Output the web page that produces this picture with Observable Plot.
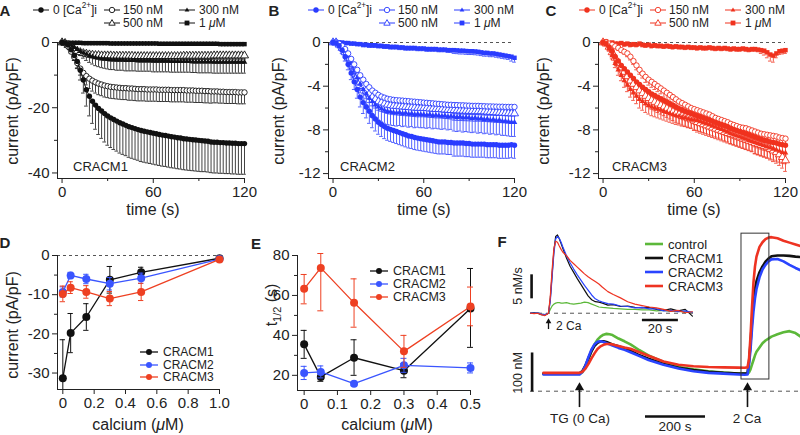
<!DOCTYPE html>
<html><head><meta charset="utf-8">
<script src="https://cdn.jsdelivr.net/npm/d3@7"></script>
<script src="https://cdn.jsdelivr.net/npm/@observablehq/plot@0.6"></script>
<style>
body{margin:0;background:#fff;}
#fig{position:relative;width:800px;height:435px;overflow:hidden;background:#fff;font-family:"Liberation Sans",Arial,sans-serif;color:#222;}
.t{position:absolute;white-space:nowrap;line-height:1;}
.t sup{font-size:0.68em;position:relative;top:-0.1em;line-height:0;vertical-align:super;}
.t sub{font-size:0.68em;line-height:0;}
</style></head><body><div id="fig"></div>
<script>
// ---------- DATA ----------
const time = [0,2,4,6,8,10,12,14,16,18,20,22,24,26,28,30,32,34,36,38,40,42,44,46,48,50,52,54,56,58,60,62,64,66,68,70,72,74,76,78,80,82,84,86,88,90,92,94,96,98,100,102,104,106,108,110,112,114,116,118,120];
const concLabels = ["0 [Ca<sup>2+</sup>]i","150 nM","300 nM","500 nM","1 <i>μ</i>M"];

// Panel A (CRACM1), current pA/pF
const a0 = [0,-0.2,-0.8,-2.2,-4,-5.8,-8.5,-11.5,-14.5,-16.5,
-18,-19.2,-20.2,-21,-21.8,-22.5,-23.1,-23.6,-24.1,-24.6,
-25,-25.4,-25.8,-26.1,-26.4,-26.7,-27,-27.2,-27.4,-27.6,
-27.8,-28,-28.2,-28.4,-28.5,-28.7,-28.9,-29,-29.2,-29.3,
-29.5,-29.6,-29.7,-29.8,-29.9,-30,-30.1,-30.2,-30.3,-30.5,
-30.6,-30.6,-30.7,-30.7,-30.8,-30.8,-30.9,-30.9,-31,-31,
-31];
const a0Err = [0,0.3,0.6,1,1.5,2.2,3,4,5,6,
6.8,7.4,8,8.4,8.7,9,9.1,9.2,9.2,9.3,
9.3,9.3,9.4,9.4,9.4,9.4,9.5,9.5,9.5,9.5,
9.5,9.5,9.5,9.5,9.5,9.5,9.5,9.5,9.5,9.5,
9.5,9.5,9.5,9.5,9.5,9.5,9.5,9.4,9.4,9.4,
9.4,9.4,9.4,9.4,9.4,9.4,9.4,9.4,9.4,9.4,
9.4];
const a150 = [0,-0.3,-1.2,-2.8,-4.5,-6.3,-8,-9.3,-10.3,-11.1,
-11.7,-12.2,-12.6,-12.9,-13.2,-13.4,-13.6,-13.7,-13.8,-13.9,
-14,-14,-14.1,-14.1,-14.2,-14.3,-14.3,-14.3,-14.4,-14.4,
-14.4,-14.4,-14.5,-14.5,-14.5,-14.5,-14.6,-14.6,-14.6,-14.6,
-14.6,-14.7,-14.7,-14.7,-14.8,-14.8,-14.8,-14.9,-14.9,-15,
-15,-15,-15.1,-15.1,-15.2,-15.2,-15.2,-15.2,-15.3,-15.3,
-15.3];
const a150Err = [0,0.1,0.3,0.6,1,1.5,2,2.4,2.7,3,
3.2,3.3,3.4,3.4,3.5,3.5,3.5,3.5,3.5,3.5,
3.5,3.5,3.6,3.6,3.6,3.6,3.6,3.6,3.6,3.6,
3.6,3.6,3.6,3.6,3.6,3.6,3.6,3.6,3.6,3.6,
3.6,3.6,3.6,3.6,3.6,3.6,3.6,3.6,3.6,3.6,
3.5,3.5,3.5,3.5,3.5,3.5,3.5,3.5,3.5,3.5,
3.5];
const a300 = [0,-0.1,-0.4,-0.9,-1.5,-2.1,-2.7,-3.2,-3.6,-4,
-4.3,-4.6,-4.8,-5,-5.1,-5.2,-5.3,-5.3,-5.4,-5.4,
-5.4,-5.5,-5.5,-5.5,-5.5,-5.6,-5.6,-5.6,-5.6,-5.6,
-5.7,-5.7,-5.7,-5.7,-5.7,-5.7,-5.8,-5.8,-5.8,-5.8,
-5.8,-5.8,-5.8,-5.9,-5.9,-5.9,-5.9,-5.9,-5.9,-5.9,
-6,-6,-6,-6,-6,-6,-6,-6,-6,-6,
-6];
const a300Err = [0,0,0.2,0.4,0.7,1,1.3,1.6,1.9,2.1,
2.3,2.5,2.6,2.7,2.8,2.9,3,3,3.1,3.1,
3.1,3.2,3.2,3.2,3.2,3.2,3.2,3.2,3.2,3.2,
3.3,3.3,3.3,3.3,3.3,3.3,3.3,3.3,3.3,3.3,
3.3,3.3,3.3,3.3,3.3,3.4,3.4,3.4,3.4,3.4,
3.4,3.4,3.4,3.4,3.4,3.4,3.4,3.4,3.4,3.4,
3.4];
const a500 = [0,-0.2,-0.8,-1.5,-2.1,-2.6,-3,-3.3,-3.5,-3.7,
-3.8,-3.9,-3.9,-4,-4,-4,-4,-4.1,-4.1,-4.1,
-4.1,-4.1,-4.1,-4.1,-4.2,-4.2,-4.2,-4.2,-4.2,-4.2,
-4.2,-4.2,-4.2,-4.2,-4.2,-4.2,-4.2,-4.2,-4.2,-4.2,
-4.1,-4.1,-4.1,-4.1,-4.1,-4.1,-4.1,-4.1,-4.1,-4.1,
-4,-4,-4,-4,-4,-4,-4,-4,-4,-4,
-4];
const a500Err = [0,0.1,0.2,0.3,0.4,0.5,0.6,0.7,0.8,0.8,
0.9,0.9,0.9,1,1,1,1,1,1,1,
1,1,1,1,1,1,1,1,1,1,
1,1,1,1,1,1.1,1.1,1.1,1.1,1.1,
1.1,1.1,1.1,1.1,1.1,1.1,1.1,1.1,1.1,1.1,
1.1,1.1,1.1,1.1,1.1,1.1,1.1,1.1,1.1,1.1,
1.1];
const a1000 = [0,0,-0.1,-0.1,-0.1,-0.1,-0.1,-0.2,-0.2,-0.2,
-0.2,-0.2,-0.2,-0.2,-0.2,-0.2,-0.3,-0.3,-0.3,-0.3,
-0.3,-0.3,-0.3,-0.3,-0.3,-0.3,-0.3,-0.3,-0.3,-0.3,
-0.3,-0.3,-0.4,-0.4,-0.4,-0.4,-0.4,-0.4,-0.4,-0.4,
-0.4,-0.4,-0.4,-0.4,-0.4,-0.4,-0.4,-0.4,-0.4,-0.4,
-0.4,-0.4,-0.5,-0.5,-0.5,-0.5,-0.5,-0.5,-0.5,-0.5,
-0.5];
const a1000Err = [0,0.1,0.1,0.1,0.2,0.2,0.2,0.2,0.2,0.2,
0.2,0.2,0.2,0.2,0.2,0.2,0.2,0.2,0.2,0.2,
0.3,0.3,0.3,0.3,0.3,0.3,0.3,0.3,0.3,0.3,
0.3,0.3,0.3,0.3,0.3,0.3,0.3,0.3,0.3,0.3,
0.3,0.3,0.3,0.3,0.3,0.3,0.3,0.3,0.3,0.3,
0.3,0.3,0.3,0.3,0.3,0.3,0.3,0.3,0.3,0.3,
0.3];

// Panel B (CRACM2)
const b0 = [0,-0.05,-0.3,-0.7,-1.3,-2,-2.8,-3.6,-4.3,-5,
-5.5,-5.9,-6.3,-6.7,-7,-7.3,-7.5,-7.7,-7.85,-7.95,
-8.05,-8.15,-8.25,-8.35,-8.45,-8.55,-8.6,-8.7,-8.75,-8.8,
-8.85,-8.9,-8.95,-9,-9.05,-9.1,-9.1,-9.1,-9.15,-9.15,
-9.2,-9.2,-9.2,-9.2,-9.25,-9.25,-9.3,-9.3,-9.3,-9.3,
-9.3,-9.35,-9.35,-9.35,-9.35,-9.4,-9.4,-9.4,-9.4,-9.35,
-9.4];
const b0Err = [0,0.1,0.2,0.3,0.4,0.5,0.6,0.7,0.8,0.9,
1,1,1.1,1.1,1.1,1.1,1.1,1.1,1.1,1.1,
1.1,1.1,1.1,1.1,1.1,1.1,1.1,1.1,1.1,1.1,
1.1,1.1,1.1,1.1,1.1,1.1,1.1,1.1,1.1,1.1,
1.2,1.2,1.2,1.2,1.2,1.2,1.2,1.2,1.2,1.2,
1.2,1.2,1.2,1.2,1.2,1.2,1.2,1.2,1.2,1.2,
1.2];
const b150 = [0,0,-0.1,-0.3,-0.6,-1,-1.5,-2,-2.5,-3,
-3.4,-3.8,-4.1,-4.4,-4.6,-4.8,-4.95,-5.05,-5.15,-5.2,
-5.25,-5.28,-5.3,-5.32,-5.35,-5.37,-5.4,-5.42,-5.45,-5.47,
-5.5,-5.52,-5.55,-5.57,-5.6,-5.62,-5.65,-5.67,-5.7,-5.7,
-5.72,-5.73,-5.75,-5.75,-5.77,-5.78,-5.8,-5.8,-5.8,-5.82,
-5.83,-5.85,-5.85,-5.86,-5.87,-5.88,-5.88,-5.9,-5.9,-5.9,
-5.9];
const b150Err = [0,0,0.1,0.1,0.2,0.3,0.4,0.5,0.6,0.6,
0.7,0.7,0.7,0.7,0.7,0.7,0.7,0.7,0.7,0.7,
0.7,0.7,0.7,0.7,0.7,0.7,0.7,0.7,0.7,0.7,
0.7,0.7,0.7,0.7,0.7,0.7,0.7,0.7,0.7,0.7,
0.8,0.8,0.8,0.8,0.8,0.8,0.8,0.8,0.8,0.8,
0.8,0.8,0.8,0.8,0.8,0.8,0.8,0.8,0.8,0.8,
0.8];
const b300 = [0,0,-0.1,-0.4,-0.8,-1.3,-1.9,-2.6,-3.2,-3.8,
-4.3,-4.7,-5.1,-5.4,-5.7,-5.9,-6.05,-6.2,-6.3,-6.35,
-6.4,-6.45,-6.4,-6.5,-6.45,-6.55,-6.5,-6.6,-6.55,-6.6,
-6.6,-6.65,-6.6,-6.7,-6.65,-6.7,-6.75,-6.7,-6.8,-6.75,
-6.8,-6.85,-6.8,-6.9,-6.85,-6.9,-6.95,-6.9,-7,-6.95,
-7.05,-7,-7.1,-7.05,-7.15,-7.1,-7.2,-7.2,-7.25,-7.3,
-7.3];
const b300Err = [0,0,0.1,0.2,0.3,0.4,0.5,0.6,0.7,0.8,
0.9,1,1.1,1.1,1.2,1.2,1.2,1.2,1.2,1.2,
1.2,1.2,1.2,1.2,1.2,1.2,1.2,1.2,1.2,1.2,
1.2,1.2,1.2,1.2,1.2,1.2,1.2,1.2,1.2,1.2,
1.3,1.3,1.3,1.3,1.3,1.3,1.3,1.3,1.3,1.3,
1.3,1.3,1.3,1.3,1.3,1.3,1.3,1.3,1.3,1.3,
1.3];
const b500 = [0,0,-0.2,-0.5,-0.9,-1.4,-2,-2.6,-3.1,-3.6,
-4,-4.4,-4.7,-5,-5.2,-5.4,-5.5,-5.6,-5.7,-5.75,
-5.8,-5.82,-5.85,-5.87,-5.9,-5.92,-5.95,-5.97,-6,-6,
-6,-6.02,-6.05,-6.07,-6.1,-6.1,-6.12,-6.15,-6.17,-6.2,
-6.2,-6.22,-6.23,-6.25,-6.26,-6.27,-6.28,-6.3,-6.3,-6.3,
-6.32,-6.34,-6.36,-6.38,-6.4,-6.42,-6.44,-6.46,-6.48,-6.5,
-6.5];
const b500Err = [0,0,0.1,0.2,0.3,0.4,0.5,0.5,0.6,0.6,
0.7,0.7,0.8,0.8,0.8,0.8,0.8,0.8,0.8,0.8,
0.8,0.8,0.8,0.8,0.8,0.8,0.8,0.8,0.8,0.8,
0.8,0.8,0.8,0.8,0.8,0.8,0.8,0.8,0.8,0.8,
0.9,0.9,0.9,0.9,0.9,0.9,0.9,0.9,0.9,0.9,
0.9,0.9,0.9,0.9,0.9,0.9,0.9,0.9,0.9,0.9,
0.9];
const b1000 = [0,0.05,0,0,-0.05,-0.05,-0.1,-0.1,-0.15,-0.15,
-0.2,-0.2,-0.25,-0.25,-0.25,-0.3,-0.3,-0.35,-0.35,-0.4,
-0.4,-0.4,-0.45,-0.45,-0.5,-0.5,-0.5,-0.5,-0.55,-0.55,
-0.55,-0.6,-0.6,-0.6,-0.6,-0.65,-0.65,-0.65,-0.7,-0.7,
-0.7,-0.72,-0.75,-0.75,-0.78,-0.8,-0.8,-0.82,-0.85,-0.9,
-0.95,-0.95,-1,-1,-1.05,-1.1,-1.15,-1.2,-1.25,-1.3,
-1.4];
const b1000Err = [0,0.1,0.1,0.1,0.1,0.1,0.1,0.1,0.1,0.1,
0.2,0.2,0.2,0.2,0.2,0.2,0.2,0.2,0.2,0.2,
0.2,0.2,0.2,0.2,0.2,0.2,0.2,0.2,0.2,0.2,
0.2,0.2,0.2,0.2,0.2,0.2,0.2,0.2,0.2,0.2,
0.3,0.3,0.3,0.3,0.3,0.3,0.3,0.3,0.3,0.3,
0.3,0.3,0.3,0.3,0.3,0.3,0.3,0.3,0.3,0.4,
0.4];

// Panel C (CRACM3)
const c0 = [0,-0.1,-0.4,-0.8,-1.3,-1.7,-2.1,-2.4,-2.7,-3,
-3.3,-3.6,-3.85,-4.1,-4.3,-4.5,-4.7,-4.85,-5,-5.15,
-5.3,-5.45,-5.6,-5.75,-5.9,-6.05,-6.15,-6.3,-6.4,-6.5,
-6.6,-6.7,-6.8,-6.9,-7,-7.1,-7.2,-7.3,-7.4,-7.5,
-7.6,-7.7,-7.85,-7.95,-8.05,-8.15,-8.25,-8.35,-8.45,-8.55,
-8.65,-8.75,-8.85,-8.95,-9,-9.1,-9.15,-9.2,-9.3,-9.35,
-9.4];
const c0Err = [0,0.1,0.1,0.2,0.2,0.3,0.3,0.4,0.4,0.5,
0.5,0.5,0.6,0.6,0.6,0.6,0.7,0.7,0.7,0.7,
0.7,0.7,0.7,0.7,0.7,0.7,0.7,0.7,0.7,0.7,
0.8,0.8,0.8,0.8,0.8,0.8,0.8,0.8,0.8,0.8,
0.8,0.8,0.8,0.8,0.8,0.8,0.8,0.8,0.8,0.8,
0.9,0.9,0.9,0.9,0.9,0.9,0.9,0.9,0.9,0.9,
0.9];
const c150 = [0,0,-0.1,-0.2,-0.35,-0.5,-0.7,-0.85,-1,-1.3,
-1.7,-2.1,-2.5,-2.85,-3.15,-3.4,-3.6,-3.8,-4,-4.2,
-4.4,-4.6,-4.8,-5,-5.2,-5.4,-5.55,-5.7,-5.85,-6,
-6.1,-6.2,-6.3,-6.4,-6.5,-6.6,-6.75,-6.9,-7,-7.1,
-7.2,-7.3,-7.45,-7.55,-7.65,-7.75,-7.8,-7.85,-7.95,-8.05,
-8.15,-8.25,-8.35,-8.4,-8.45,-8.5,-8.55,-8.6,-8.7,-8.75,
-8.8];
const c150Err = [0,0,0.1,0.1,0.1,0.2,0.2,0.2,0.3,0.3,
0.3,0.4,0.4,0.4,0.5,0.5,0.5,0.5,0.5,0.5,
0.6,0.6,0.6,0.6,0.6,0.6,0.6,0.6,0.6,0.6,
0.6,0.6,0.6,0.6,0.6,0.6,0.6,0.6,0.6,0.6,
0.6,0.6,0.6,0.6,0.6,0.6,0.6,0.6,0.6,0.6,
0.7,0.7,0.7,0.7,0.7,0.7,0.7,0.7,0.7,0.7,
0.7];
const c300 = [0,-0.2,-0.6,-1.2,-1.9,-2.5,-3,-3.5,-3.9,-4.3,
-4.6,-4.9,-5.2,-5.4,-5.6,-5.75,-5.9,-6,-6.1,-6.2,
-6.3,-6.4,-6.5,-6.6,-6.7,-6.75,-6.85,-6.9,-7,-7.05,
-7.1,-7.15,-7.25,-7.35,-7.45,-7.55,-7.65,-7.75,-7.85,-7.95,
-8.1,-8.2,-8.35,-8.45,-8.55,-8.65,-8.75,-8.85,-8.95,-9.05,
-9.15,-9.25,-9.35,-9.45,-9.55,-9.65,-9.75,-9.85,-9.95,-10.05,
-10.1];
const c300Err = [0,0.1,0.2,0.3,0.4,0.5,0.5,0.6,0.6,0.7,
0.7,0.7,0.8,0.8,0.8,0.8,0.8,0.8,0.8,0.8,
0.8,0.8,0.8,0.8,0.8,0.8,0.8,0.8,0.8,0.8,
0.9,0.9,0.9,0.9,0.9,0.9,0.9,0.9,0.9,0.9,
0.9,0.9,0.9,0.9,0.9,0.9,0.9,0.9,0.9,0.9,
1,1,1,1,1,1,1,1,1,1,
1];
const c500 = [0,-0.1,-0.4,-0.9,-1.4,-1.9,-2.3,-2.7,-3.1,-3.5,
-3.8,-4.1,-4.4,-4.65,-4.9,-5.1,-5.3,-5.45,-5.6,-5.75,
-5.9,-6.05,-6.2,-6.35,-6.5,-6.6,-6.75,-6.85,-6.95,-7.05,
-7.15,-7.3,-7.4,-7.5,-7.6,-7.7,-7.8,-7.9,-8,-8.1,
-8.2,-8.3,-8.4,-8.5,-8.6,-8.7,-8.8,-8.9,-9,-9.1,
-9.2,-9.3,-9.4,-9.5,-9.6,-9.75,-9.9,-10.05,-10.25,-10.5,
-10.8];
const c500Err = [0,0.1,0.2,0.3,0.4,0.5,0.6,0.6,0.7,0.7,
0.8,0.8,0.8,0.8,0.8,0.8,0.8,0.8,0.8,0.8,
0.8,0.8,0.8,0.8,0.8,0.8,0.8,0.8,0.8,0.8,
0.9,0.9,0.9,0.9,0.9,0.9,0.9,0.9,0.9,0.9,
0.9,0.9,0.9,0.9,0.9,0.9,0.9,0.9,0.9,0.9,
1,1,1,1,1,1,1,1,1,1,
1];
const c1000 = [0,0.1,-0.1,0,-0.1,-0.1,-0.05,-0.15,-0.1,-0.2,
-0.15,-0.2,-0.1,-0.2,-0.25,-0.2,-0.3,-0.25,-0.3,-0.3,
-0.35,-0.3,-0.35,-0.4,-0.35,-0.4,-0.4,-0.45,-0.4,-0.45,
-0.45,-0.5,-0.45,-0.5,-0.5,-0.45,-0.5,-0.55,-0.5,-0.55,
-0.5,-0.55,-0.6,-0.55,-0.6,-0.6,-0.55,-0.6,-0.65,-0.6,
-0.6,-0.65,-0.7,-0.75,-0.9,-1.1,-1.2,-1,-0.8,-0.75,
-0.7];
const c1000Err = [0,0.1,0.1,0.1,0.1,0.1,0.1,0.2,0.2,0.2,
0.2,0.2,0.2,0.2,0.2,0.2,0.2,0.2,0.2,0.2,
0.2,0.2,0.2,0.2,0.2,0.2,0.2,0.2,0.2,0.2,
0.2,0.2,0.2,0.2,0.2,0.2,0.2,0.2,0.2,0.2,
0.2,0.2,0.2,0.2,0.2,0.2,0.2,0.2,0.2,0.2,
0.2,0.2,0.3,0.4,0.5,0.6,0.6,0.4,0.3,0.3,
0.3];

// Panel D: peak current vs calcium
const dCalcium = [0,0.05,0.15,0.3,0.5,1.0];
const dCracm1 = [-31.3,-19.8,-15.7,-6.2,-4.3,-0.7];
const dCracm1Err = [9.8,5,3.4,3.4,1.3,0.3];
const dCracm2 = [-9.3,-5.1,-6,-7.2,-5.8,-0.9];
const dCracm2Err = [1.3,0.8,1.2,1.6,1.3,0.4];
const dCracm3 = [-9.8,-8.2,-9.3,-11,-9.3,-1];
const dCracm3Err = [2,1.5,1.6,1.8,2.2,0.5];

// Panel E: t1/2 vs calcium
const eCalcium = [0,0.05,0.15,0.3,0.5];
const eCracm1 = [35.5,19.2,28.8,22.3,53.5];
const eCracm1Up = [7,2.2,9,3.5,20];
const eCracm1Dn = [7,2.2,8.8,3.5,19.5];
const eCracm2 = [21.2,21.7,15.8,25,23.7];
const eCracm2Up = [3.3,3,1,3.5,2.5];
const eCracm2Dn = [3.3,3,1,3.5,2.5];
const eCracm3 = [63.3,73.8,56.3,32,54.5];
const eCracm3Up = [7.2,7.2,12,8,9.7];
const eCracm3Dn = [7.5,21.5,12.2,8,9.7];
const cracmNames = ["CRACM1","CRACM2","CRACM3"];

// Panel F inset: Ca influx rate (nM/s) vs time after 2 Ca (s)
const insetTime = [-10,-8,-6,-4,-2,0,1,2,3,4,5,6,7,8,10,12,14,16,18,20,22,24,26,28,30,33,36,40,44,48,52,56,60,64,68,72,76,80];
const insetControl = [0,0,0.1,-0.2,-0.3,0,0.8,1.5,1.9,2.1,2.2,2.2,2.1,2.1,2.2,2,1.9,2,2.1,2.3,2.2,1.9,1.6,1.3,1.2,1.1,1,0.9,0.8,0.8,0.7,0.7,0.5,0.6,0.4,0.4,0.3,0.2];
const insetCracm1 = [0,0.1,0,-0.3,-0.4,0,3,8,13,16,16.3,15.5,14.5,13.5,11.5,9.8,8.5,7.2,6,4.8,3.6,2.8,2.4,2.3,2.1,1.7,1.8,1.4,1.5,1.2,1.1,1.2,0.8,0.6,0.9,0.5,0.8,-0.6];
const insetCracm2 = [0,0,0.1,-0.2,-0.3,0,2.5,7.5,12.5,15.5,16,15.6,14.8,13.8,12,10.5,9.2,8,6.9,5.8,4.8,3.8,3,2.6,2.3,2,1.9,1.5,1.4,1.1,1.2,0.9,0.9,0.5,0.6,0.3,0.5,0.2];
const insetCracm3 = [0,-0.1,0,-0.3,-0.5,0,3.5,9,13.5,15,14.8,14,13.3,12.7,12,11,10.3,9.6,8.9,8.2,7.6,7.1,6.6,6.1,5.4,4.5,3.9,3.2,2.4,1.9,1.6,1.3,1.1,0.8,0.4,0.6,0.1,0.3];

// Panel F main: [Ca2+]i (nM) vs time (s)
const fTime = [0,40,80,110,120,130,140,150,160,170,180,190,200,210,220,230,250,270,290,320,350,400,450,500,550,600,650,670,680,685,690,695,700,705,710,720,730,740,750,760,780,800,820,840,857];
const fControl = [44,44,44,44,44,49,62,82,103,120,132,140,145,147,146,144,135,128,120,105,92,75,62,56,51,48,45,45,45,48,56,68,80,92,101,112,123,130,135,140,146,151,154,149,140];
const fCracm1 = [45,45,45,45,46,52,66,85,103,116,124,128,128,126,123,120,115,110,104,92,83,70,60,54,50,47,45,45,46,75,122,180,232,262,282,305,320,332,340,346,348,348,347,345,344];
const fCracm2 = [43,43,43,43,43,50,66,88,107,120,127,128,126,123,120,117,111,106,100,90,80,68,58,51,47,45,43,42,43,68,106,160,205,238,262,292,312,324,333,338,339,333,324,316,310];
const fCracm3 = [47,47,47,47,47,50,58,70,84,97,108,115,119,121,121,120,116,112,109,100,91,76,68,64,62,61,60.5,60,61,82,140,215,280,320,345,370,382,390,394,395,392,386,381,376,372];
const fNames = ["control","CRACM1","CRACM2","CRACM3"];
const fEvents = [{t:120,label:"TG (0 Ca)"},{t:680,label:"2 Ca"}];
const fBox = [{t1:660,t2:753,v1:30,v2:404}];
const fTimeBar = [{t1:340,t2:540,label:"200 s"}];
const fConcBar = [{v1:-2,v2:98,label:"100 nM"}];
const insetTimeBar = [{t1:52.2,t2:72.2,label:"20 s"}];
const insetRateBar = [{v1:3,v2:8,label:"5 nM/s"}];

// ---------- DRAWING ----------
const FONT = '"Liberation Sans", Arial, sans-serif';
const fig = document.getElementById("fig");
const BLACK = "#111", BLUE = "#2a3cff", RED = "#f0321e";
const dColors = ["#111","#3a55ff","#ee4022"];
const fColors = ["#5cb83a","#111","#2a44ff","#ee3322"];
const markers = [
  {symbol:"circle", r:2.7, open:false},
  {symbol:"circle", r:2.7, open:true},
  {symbol:"triangle", r:2.1, open:false},
  {symbol:"triangle", r:3, open:true},
  {symbol:"square", r:2.5, open:false}
];

function place(svg, left, top) {
  svg.style.position = "absolute";
  svg.style.left = left + "px";
  svg.style.top = top + "px";
  fig.appendChild(svg);
}
function axes(xd, yd, xt, xm, yt, ym, xfmt) {
  const m = [
    Plot.ruleX([xd[0]], {stroke:"#222", strokeWidth:1}),
    Plot.ruleY([yd[0]], {stroke:"#222", strokeWidth:1}),
    Plot.axisY({ticks: yt, tickSize:5, tickPadding:3, tickFormat: d => String(d), label:null, fontSize:15}),
    Plot.axisX({ticks: xt, tickSize:5, tickPadding:3, tickFormat: xfmt, label:null, fontSize:15})
  ];
  if (ym.length) m.push(Plot.axisY({ticks: ym, tickSize:3, tickFormat: () => "", label:null}));
  if (xm.length) m.push(Plot.axisX({ticks: xm, tickSize:3, tickFormat: () => "", label:null}));
  return m;
}
function baseStyle() {
  return {background:"transparent", overflow:"visible", fontFamily:FONT, fontSize:"15px", color:"#222"};
}

function timePanel(cfg) {
  const xd = [-3,120];
  const rows = cfg.vals.map((arr,k) => arr.map((v,i) => ({t: time[i], v, e: cfg.errs[k][i] ?? 0})));
  const c = cfg.color;
  const marks = [Plot.ruleY([0], {stroke:"#555", strokeDasharray:"3,3", strokeWidth:1})];
  rows.forEach(r => {
    marks.push(Plot.ruleX(r, {x:"t", y1:"v", y2: d => d.v - d.e, stroke:c, strokeWidth:0.8}));
    marks.push(Plot.ruleY(r, {y: d => d.v - d.e, x1: d => d.t - 1.2, x2: d => d.t + 1.2, stroke:c, strokeWidth:0.8}));
  });
  [4,3,2,1,0].forEach(k => {
    const s = markers[k];
    marks.push(Plot.line(rows[k], {x:"t", y:"v", stroke:c, strokeWidth:1}));
    marks.push(Plot.dot(rows[k], {x:"t", y:"v", symbol:s.symbol, r:s.r, fill: s.open ? "white" : c, stroke: s.open ? c : "none", strokeWidth:0.9}));
  });
  marks.push(...axes(xd, cfg.yd, [0,60,120], [30,90], cfg.yt, cfg.ym, d => String(d)));
  const svg = Plot.plot({
    width: cfg.w, height: 218,
    marginLeft: cfg.mL, marginRight: cfg.mR, marginTop: 42, marginBottom: 40,
    x: {domain: xd, label: null}, y: {domain: cfg.yd, label: null},
    style: baseStyle(), marks
  });
  place(svg, cfg.left, 0);
}

timePanel({left:0, w:265, mL:57, mR:21, color:BLACK, yd:[-41.7,0], yt:[0,-20,-40], ym:[-10,-30],
  vals:[a0,a150,a300,a500,a1000], errs:[a0Err,a150Err,a300Err,a500Err,a1000Err]});
timePanel({left:265, w:265, mL:63, mR:16, color:BLUE, yd:[-12.45,0], yt:[0,-4,-8,-12], ym:[-2,-6,-10],
  vals:[b0,b150,b300,b500,b1000], errs:[b0Err,b150Err,b300Err,b500Err,b1000Err]});
timePanel({left:530, w:270, mL:68, mR:15, color:RED, yd:[-12.45,0], yt:[0,-4,-8,-12], ym:[-2,-6,-10],
  vals:[c0,c150,c300,c500,c1000], errs:[c0Err,c150Err,c300Err,c500Err,c1000Err]});

function dosePanel(cfg) {
  const marks = [];
  if (cfg.dashed) marks.push(Plot.ruleY([0], {stroke:"#555", strokeDasharray:"3,3", strokeWidth:1}));
  cfg.vals.forEach((arr,k) => {
    const rows = arr.map((v,i) => ({x: cfg.x[i], v, lo: v - cfg.dn[k][i], hi: v + cfg.up[k][i]}));
    const c = dColors[k];
    marks.push(
      Plot.ruleX(rows, {x:"x", y1:"lo", y2:"hi", stroke:c, strokeWidth:1, clip:cfg.clip}),
      Plot.ruleY(rows, {y:"lo", x1: d => d.x - cfg.cap, x2: d => d.x + cfg.cap, stroke:c, strokeWidth:1, clip:cfg.clip}),
      Plot.ruleY(rows, {y:"hi", x1: d => d.x - cfg.cap, x2: d => d.x + cfg.cap, stroke:c, strokeWidth:1, clip:cfg.clip}),
      Plot.line(rows, {x:"x", y:"v", stroke:c, strokeWidth:1.3}),
      Plot.dot(rows, {x:"x", y:"v", r:4, fill:c})
    );
  });
  marks.push(...axes(cfg.xd, cfg.yd, cfg.xt, [], cfg.yt, cfg.ym, d => d === 0 ? "0" : d.toFixed(1)));
  const svg = Plot.plot({
    width: cfg.w, height: 217,
    marginLeft: cfg.mL, marginRight: cfg.mR, marginTop: 37, marginBottom: cfg.mB,
    x: {domain: cfg.xd, label:null}, y: {domain: cfg.yd, label:null},
    style: baseStyle(), marks
  });
  place(svg, cfg.left, 218);
}
dosePanel({left:0, w:265, mL:57, mR:46, mB:46, xd:[-0.034,1], yd:[-34.2,0], dashed:true, clip:true, cap:0.017,
  xt:[0,0.2,0.4,0.6,0.8,1], yt:[0,-10,-20,-30], ym:[-5,-15,-25],
  x:dCalcium, vals:[dCracm1,dCracm2,dCracm3], up:[dCracm1Err,dCracm2Err,dCracm3Err], dn:[dCracm1Err,dCracm2Err,dCracm3Err]});
dosePanel({left:265, w:240, mL:32, mR:35, mB:45, xd:[-0.02,0.5], yd:[12.4,80], dashed:false, clip:false, cap:0.009,
  xt:[0,0.1,0.2,0.3,0.4,0.5], yt:[20,40,60,80], ym:[30,50,70],
  x:eCalcium, vals:[eCracm1,eCracm2,eCracm3], up:[eCracm1Up,eCracm2Up,eCracm3Up], dn:[eCracm1Dn,eCracm2Dn,eCracm3Dn]});

// Panel F main traces
(function(){
  const traces = [fControl,fCracm1,fCracm2,fCracm3];
  const marks = [Plot.ruleY([0], {stroke:"#555", strokeDasharray:"4,4", strokeWidth:1})];
  traces.forEach((arr,k) => {
    const rows = arr.map((v,i) => ({t: fTime[i], v}));
    marks.push(Plot.line(rows, {x:"t", y:"v", stroke:fColors[k], strokeWidth:2.6}));
  });
  marks.push(
    Plot.rect(fBox, {x1:"t1", x2:"t2", y1:"v1", y2:"v2", fill:"none", stroke:"#333", strokeWidth:1}),
    Plot.ruleX(fEvents, {x:"t", y1:-42, y2:6, stroke:"#111", strokeWidth:1.6}),
    Plot.dot(fEvents, {x:"t", y:9.5, symbol:"triangle", r:3.4, fill:"#111"}),
    Plot.ruleY(fTimeBar, {x1:"t1", x2:"t2", y:-65, stroke:"#111", strokeWidth:2.6}),
    Plot.ruleX(fConcBar, {x:-38, y1:"v1", y2:"v2", stroke:"#111", strokeWidth:2.6})
  );
  const svg = Plot.plot({
    width:295, height:217, marginLeft:25, marginRight:0, marginTop:7, marginBottom:0,
    x:{domain:[-43.3,856.7], axis:null}, y:{domain:[-113.6,424.9], axis:null},
    style: baseStyle(), marks
  });
  place(svg, 505, 218);
})();
// Panel F inset
(function(){
  const traces = [insetControl,insetCracm1,insetCracm2,insetCracm3];
  const marks = [Plot.ruleY([0], {stroke:"#555", strokeDasharray:"4,4", strokeWidth:1})];
  traces.forEach((arr,k) => {
    const rows = arr.map((v,i) => ({t: insetTime[i], v}));
    marks.push(Plot.line(rows, {x:"t", y:"v", stroke:fColors[k], strokeWidth:1.2}));
  });
  marks.push(
    Plot.ruleY(insetTimeBar, {x1:"t1", x2:"t2", y:-1.4, stroke:"#111", strokeWidth:2.6}),
    Plot.ruleX(insetRateBar, {x:-9.4, y1:"v1", y2:"v2", stroke:"#111", strokeWidth:2.6}),
    Plot.ruleX([0], {x: d => d, y1:-3.4, y2:-1.9, stroke:"#111", strokeWidth:1.3}),
    Plot.dot([0], {x: d => d, y:-1.75, symbol:"triangle", r:2.1, fill:"#111"})
  );
  const svg = Plot.plot({
    width:200, height:118, marginLeft:25, marginRight:12, marginTop:10, marginBottom:0,
    x:{domain:[-10,80.6], axis:null}, y:{domain:[-4.85,17.65], axis:null},
    style: baseStyle(), marks
  });
  place(svg, 505, 218);
})();

// ---------- TEXT & LEGENDS ----------
function txt(html, x, y, o = {}) {
  const d = document.createElement("div");
  d.className = "t";
  d.innerHTML = html;
  d.style.left = x + "px";
  d.style.top = y + "px";
  d.style.fontSize = (o.size || 13) + "px";
  if (o.bold) d.style.fontWeight = "bold";
  if (o.color) d.style.color = o.color;
  const ax = o.anchor === "start" ? "0" : o.anchor === "end" ? "-100%" : "-50%";
  d.style.transform = `translate(${ax},-50%)` + (o.rotate ? ` rotate(${o.rotate}deg)` : "");
  fig.appendChild(d);
}
function glyph(k, color, x, y, w = 16) {
  const cx = w/2, cy = 5;
  let m = "";
  if (k === 0) m = `<circle cx="${cx}" cy="${cy}" r="2.7" fill="${color}"/>`;
  if (k === 1) m = `<circle cx="${cx}" cy="${cy}" r="2.7" fill="white" stroke="${color}" stroke-width="0.9"/>`;
  if (k === 2) m = `<path d="M${cx},${cy-2.6}L${cx+2.4},${cy+1.6}L${cx-2.4},${cy+1.6}Z" fill="${color}"/>`;
  if (k === 3) m = `<path d="M${cx},${cy-3.4}L${cx+3.2},${cy+2.2}L${cx-3.2},${cy+2.2}Z" fill="white" stroke="${color}" stroke-width="0.9"/>`;
  if (k === 4) m = `<rect x="${cx-2.4}" y="${cy-2.4}" width="4.8" height="4.8" fill="${color}"/>`;
  if (k === 5) m = `<circle cx="${cx}" cy="${cy}" r="3" fill="${color}"/>`;
  const sw = k === 6 ? 2.6 : (k === 5 ? 1.3 : 1);
  const d = document.createElement("div");
  d.style.position = "absolute"; d.style.left = x + "px"; d.style.top = (y - 5) + "px";
  d.innerHTML = `<svg width="${w}" height="10" style="overflow:visible;display:block"><line x1="0" y1="${cy}" x2="${w}" y2="${cy}" stroke="${color}" stroke-width="${sw}"/>${m}</svg>`;
  fig.appendChild(d);
}
// legends A, B, C
const legendSlots = [[33,53,9.5],[104,123,9.5],[179,199,9.5],[104,123,22.5],[179,199,22.5]];
[[0,BLACK],[275,BLUE],[546,RED]].forEach(([off,col]) => {
  legendSlots.forEach(([gx,tx,y],k) => {
    glyph(k, col, gx + off, y);
    txt(concLabels[k], tx + off, y, {anchor:"start", size:12});
  });
});
// legends D, E
cracmNames.forEach((n,k) => {
  glyph(5, dColors[k], 140, 352 + k*12.6, 18);
  txt(n, 163, 352 + k*12.6, {anchor:"start", size:12});
  glyph(5, dColors[k], 370, 271 + k*13, 18);
  txt(n, 393, 271 + k*13, {anchor:"start", size:12.5});
});
// legend F
fNames.forEach((n,k) => {
  glyph(6, fColors[k], 645, 244 + k*14, 18);
  txt(n, 668, 244 + k*14, {anchor:"start", size:13});
});
// panel letters
[["A",5,10],["B",274,10],["C",551,10],["D",5,242],["E",256,243],["F",502,241]].forEach(([l,x,y]) => txt(l, x, y, {size:15, bold:true}));
// axis titles
[13,279,544].forEach(x => txt("current (pA/pF)", x, 111, {size:16, rotate:-90}));
txt("current (pA/pF)", 13, 325, {size:16, rotate:-90});
txt("t<sub>1/2</sub> (s)", 272, 305, {size:16, rotate:-90});
[153,424,694].forEach(x => txt("time (s)", x, 210, {size:16}));
txt("calcium (<i>μ</i>M)", 138, 425, {size:16});
txt("calcium (<i>μ</i>M)", 387, 425, {size:16});
// in-panel labels
txt("CRACM1", 73, 166, {anchor:"start", size:13});
txt("CRACM2", 340, 166, {anchor:"start", size:13});
txt("CRACM3", 612, 166, {anchor:"start", size:13});
// F annotations
txt(fEvents[0].label, 580, 419, {size:13.5});
txt(fEvents[1].label, 747, 419, {size:13.5});
txt(fTimeBar[0].label, 675, 427, {size:13.5});
txt(fConcBar[0].label, 518, 373, {size:12.5, rotate:-90});
txt(insetRateBar[0].label, 518, 286, {size:12.5, rotate:-90});
txt("2 Ca", 556, 325.5, {anchor:"start", size:12});
txt(insetTimeBar[0].label, 660, 328, {size:13});
</script></body></html>
